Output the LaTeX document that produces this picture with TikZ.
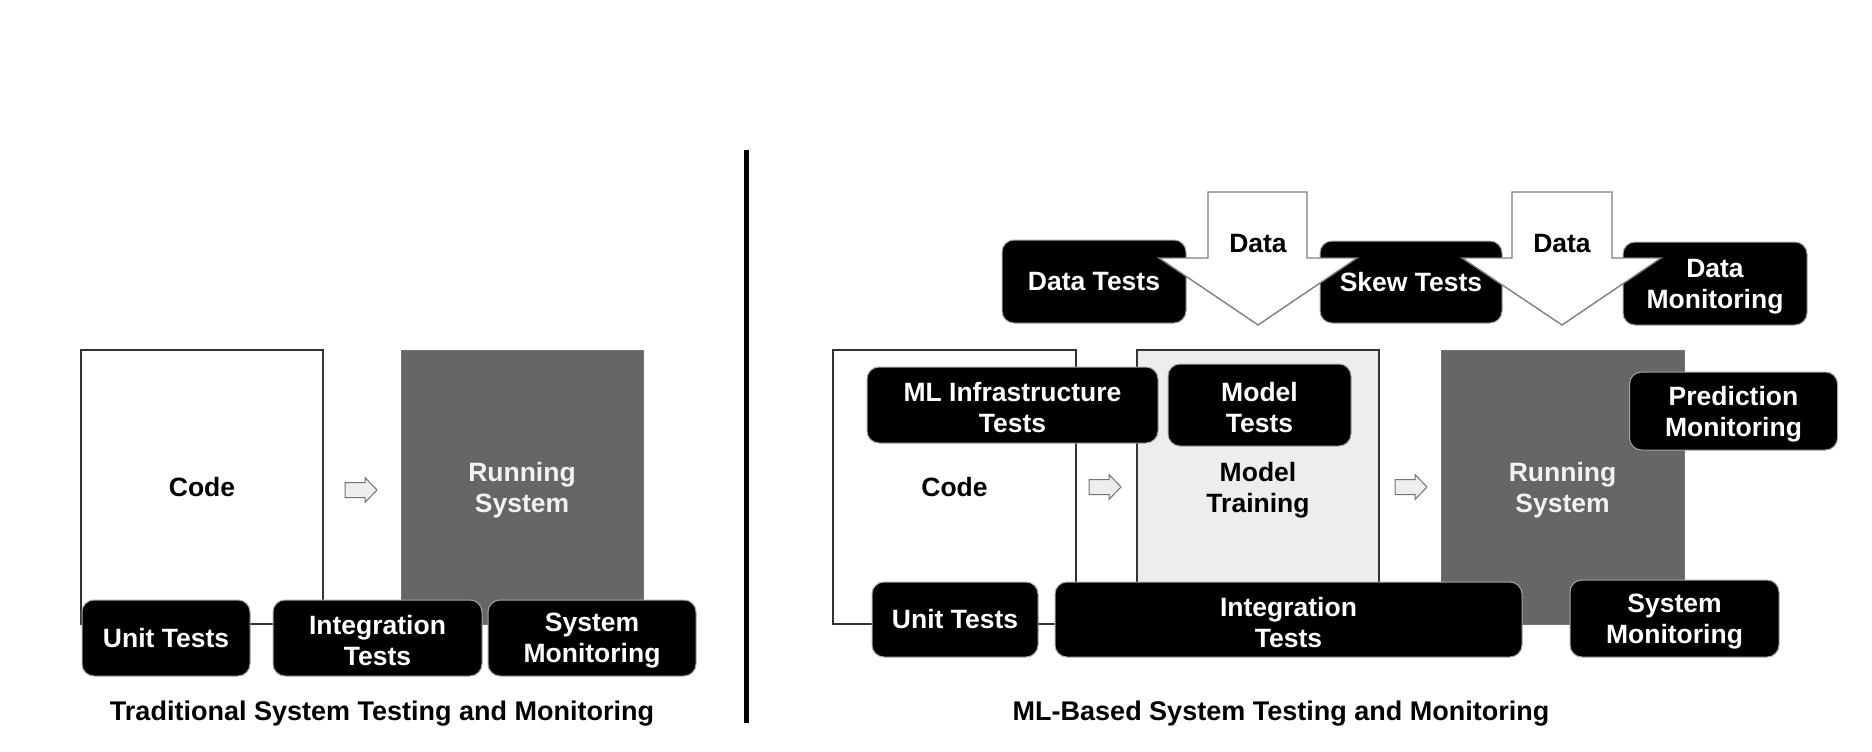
\documentclass[tikz,border=0pt]{standalone}
\usepackage{fontspec}
\setmainfont{Liberation Sans}
\begin{document}
\begin{tikzpicture}[x=1pt,y=-1pt,
  boxfont/.style={font=\fontsize{26.5}{31}\selectfont\bfseries},
  bbox/.style={boxfont, rectangle, rounded corners=12pt, fill=black, draw=black!35, line width=1pt, text=white, align=center, inner sep=0pt},
  panel/.style={boxfont, rectangle, inner sep=0pt, align=center},
  codebox/.style={panel, draw=black!80, line width=1.3pt, fill=white},
  trainbox/.style={panel, draw=black!80, line width=1.3pt, fill=black!7},
  runbox/.style={panel, fill=black!60, draw=black!55, line width=0.8pt, text=black!5},
  twotext/.style={boxfont, align=center, inner sep=0pt, text=white},
  smallarrow/.style={fill=black!7, draw=black!55, line width=1pt, line join=miter},
  dataarrow/.style={fill=white, draw=black!50, line width=1.4pt, line join=miter},
  caption/.style={font=\fontsize{27}{31}\selectfont\bfseries, inner sep=0pt}
]
\useasboundingbox (0,0) rectangle (1872,752);

% ---------------- left panel ----------------
\node[codebox, minimum width=242pt, minimum height=274pt] (codeL) at (202,487) {Code};
\node[runbox, minimum width=242pt, minimum height=274pt] (runL) at (522,487) {};
\node[twotext, text=black!5] (runLt) at ([yshift=-3pt]runL.center) {Running\\System};
\draw[smallarrow] (345,482.5) -- (365,482.5) -- (365,477.5) -- (377,490) -- (365,502.5) -- (365,497.5) -- (345,497.5) -- cycle;
\node[bbox, minimum width=168pt, minimum height=76pt] (unitL) at (166,638) {Unit Tests};
\node[bbox, minimum width=209pt, minimum height=76pt] (integL) at (377.5,638) {};
\node[twotext] (integLt) at ([yshift=-3pt]integL.center) {Integration\\Tests};
\node[bbox, minimum width=208pt, minimum height=76pt] (sysL) at (592,638) {};
\node[twotext] (sysLt) at ([yshift=-3pt]sysL.center) {System\\Monitoring};
\node[caption] (capL) at (382,714) {Traditional System Testing and Monitoring};

% divider
\coordinate (divT) at (746,150);
\coordinate (divB) at (746,723);
\draw[line width=5pt] (divT) -- (divB);

% ---------------- right panel ----------------
\node[codebox, minimum width=243pt, minimum height=274pt] (codeR) at (954.5,487) {Code};
\node[trainbox, minimum width=242pt, minimum height=274pt] (trainR) at (1258,487) {};
\node[twotext, text=black] (trainRt) at ([yshift=-3pt]trainR.center) {Model\\Training};
\node[runbox, minimum width=243pt, minimum height=274pt] (runR) at (1562.5,487) {};
\node[twotext, text=black!5] (runRt) at ([yshift=-3pt]runR.center) {Running\\System};
\draw[smallarrow] (1089,479.5) -- (1109,479.5) -- (1109,474.5) -- (1121,487) -- (1109,499.5) -- (1109,494.5) -- (1089,494.5) -- cycle;
\draw[smallarrow] (1395,479.5) -- (1415,479.5) -- (1415,474.5) -- (1427,487) -- (1415,499.5) -- (1415,494.5) -- (1395,494.5) -- cycle;

\node[bbox, minimum width=184pt, minimum height=83pt] (dataTests) at (1094,281.5) {Data Tests};
\node[bbox, minimum width=182pt, minimum height=82pt] (skew) at (1411,282) {};
\node[bbox, minimum width=184pt, minimum height=83pt] (dataMon) at (1715,283.5) {};

\draw[dataarrow] (1208,192) -- (1307,192) -- (1307,258) -- (1357,258) -- (1258,325) -- (1159,258) -- (1208,258) -- cycle;
\draw[dataarrow] (1512,192) -- (1612,192) -- (1612,258) -- (1661,258) -- (1562,325) -- (1462,258) -- (1512,258) -- cycle;
\node[boxfont, inner sep=0pt] (data1) at (1258,244) {Data};
\node[boxfont, inner sep=0pt] (data2) at (1562,244) {Data};
\node[boxfont, text=white, inner sep=0pt] (skewt) at (skew.center) {Skew Tests};
\node[twotext] (dataMont) at ([yshift=-3pt]dataMon.center) {Data\\Monitoring};

\node[bbox, minimum width=291pt, minimum height=76pt] (mlInfra) at (1012.5,405) {};
\node[twotext] (mlInfrat) at ([yshift=-3pt]mlInfra.center) {ML Infrastructure\\Tests};
\node[bbox, minimum width=183pt, minimum height=82pt] (modelTests) at (1259.5,405) {};
\node[twotext] (modelTestst) at ([yshift=-3pt]modelTests.center) {Model\\Tests};
\node[bbox, minimum width=208pt, minimum height=78pt] (predMon) at (1733.5,411) {};
\node[twotext] (predMont) at ([yshift=-3pt]predMon.center) {Prediction\\Monitoring};

\node[bbox, minimum width=166pt, minimum height=75pt] (unitR) at (955,619.5) {Unit Tests};
\node[bbox, minimum width=467pt, minimum height=75pt] (integR) at (1288.5,619.5) {};
\node[twotext] (integRt) at ([yshift=-3pt]integR.center) {Integration\\Tests};
\node[bbox, minimum width=209pt, minimum height=77pt] (sysR) at (1674.5,618.5) {};
\node[twotext] (sysRt) at ([yshift=-3pt]sysR.center) {System\\Monitoring};

\node[caption] (capR) at (1281,714) {ML-Based System Testing and Monitoring};
\end{tikzpicture}
\end{document}
